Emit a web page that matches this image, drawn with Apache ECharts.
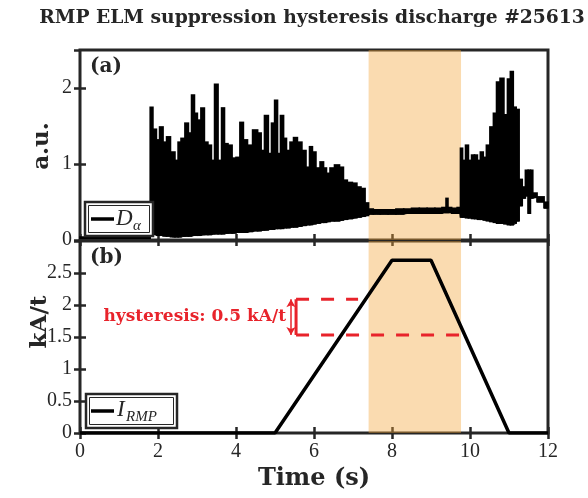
<!DOCTYPE html>
<html>
<head>
<meta charset="utf-8">
<script src="https://cdn.jsdelivr.net/npm/echarts@6/dist/echarts.min.js"></script>
<style>
    html, body { margin: 0; padding: 0; background: #fff; }
    #main { width: 588px; height: 498px; }
</style>
</head>
<body>
<div id="main"></div>
<script>
// D_alpha signal: time (s), lower and upper envelope (a.u.)
var dalphaT = [0, 1.78,
    1.82, 1.92, 2.00, 2.08, 2.18, 2.26, 2.38, 2.49, 2.54, 2.64, 2.74, 2.82, 2.90, 2.97, 3.05, 3.15,
    3.23, 3.33, 3.41, 3.49, 3.59, 3.67, 3.74, 3.85, 3.95, 4.05, 4.15, 4.23, 4.36, 4.49, 4.62, 4.67,
    4.79, 4.87, 4.95, 5.03, 5.10, 5.18, 5.26, 5.33, 5.44, 5.51, 5.64, 5.74, 5.85, 5.92, 6.00, 6.10,
    6.21, 6.28, 6.36, 6.46, 6.59, 6.72, 6.79, 6.92, 7.05, 7.15, 7.26, 7.36,
    7.44, 7.60, 7.80, 8.00, 8.20, 8.40, 8.60, 8.80, 9.00, 9.20, 9.36, 9.41, 9.46, 9.60, 9.74,
    9.77, 9.85, 9.92, 10.00, 10.08, 10.15, 10.23, 10.30, 10.38, 10.46, 10.56, 10.64, 10.72, 10.82,
    10.92, 11.00, 11.07, 11.15, 11.22, 11.30, 11.38, 11.46, 11.52, 11.58, 11.64, 11.80, 12.00];
var dalphaLo = [0.02, 0.02,
    0.08, 0.07, 0.06, 0.06, 0.05, 0.05, 0.04, 0.04, 0.04, 0.05, 0.05, 0.05, 0.06, 0.06, 0.06, 0.07,
    0.07, 0.07, 0.08, 0.08, 0.08, 0.08, 0.09, 0.09, 0.09, 0.10, 0.10, 0.10, 0.11, 0.12, 0.12, 0.13,
    0.13, 0.14, 0.14, 0.15, 0.15, 0.15, 0.16, 0.16, 0.17, 0.17, 0.18, 0.19, 0.20, 0.20, 0.21, 0.22,
    0.23, 0.23, 0.24, 0.25, 0.25, 0.26, 0.27, 0.28, 0.29, 0.30, 0.31, 0.32,
    0.34, 0.34, 0.34, 0.34, 0.34, 0.35, 0.35, 0.35, 0.35, 0.35, 0.36, 0.36, 0.36, 0.35, 0.35,
    0.30, 0.30, 0.29, 0.29, 0.28, 0.28, 0.27, 0.27, 0.26, 0.25, 0.24, 0.23, 0.22, 0.22,
    0.21, 0.20, 0.20, 0.22, 0.25, 0.45, 0.55, 0.58, 0.35, 0.55, 0.56, 0.50, 0.42];
var dalphaHi = [0.04, 0.04,
    1.75, 1.46, 1.32, 1.49, 1.29, 1.36, 1.16, 1.05, 1.29, 1.34, 1.54, 1.41, 1.91, 1.67, 1.58, 1.74,
    1.29, 1.25, 1.05, 2.05, 1.05, 1.74, 1.27, 1.25, 1.08, 1.09, 1.55, 1.32, 1.25, 1.45, 1.41, 1.18,
    1.64, 1.14, 1.54, 1.84, 1.14, 1.64, 1.34, 1.18, 1.29, 1.35, 1.29, 1.18, 0.96, 1.23, 1.16, 0.95,
    1.03, 0.95, 0.88, 0.95, 0.99, 0.96, 0.79, 0.76, 0.75, 0.70, 0.68, 0.49,
    0.41, 0.40, 0.40, 0.40, 0.41, 0.41, 0.42, 0.42, 0.42, 0.42, 0.43, 0.55, 0.43, 0.42, 0.43,
    1.21, 1.05, 1.25, 1.05, 1.12, 1.12, 1.05, 1.16, 1.09, 1.25, 1.49, 1.67, 2.08, 2.13,
    1.65, 2.12, 2.22, 1.75, 1.72, 0.80, 0.70, 0.92, 0.92, 0.92, 0.62, 0.57, 0.50];

// RMP coil current (kA/t)
var rmpT = [0, 5, 8, 9, 11, 12];
var rmpI = [0, 0, 2.7, 2.7, 0, 0];

// ELM suppressed window (s)
var shadeT = [7.4, 9.77];

// hysteresis marks
var hystUpT = [5.54, 7.13];
var hystLoT = [5.54, 9.77];
var hystLevels = [2.09, 1.53];
var hystArrowT = 5.41;

// axes: min, max, interval
var timeRange = [0, 12, 2];
var dalphaRange = [0, 2.5, 1];
var rmpRange = [0, 3, 0.5];

init();

function init() {
    var myChart = echarts.init(document.getElementById("main"));
    var frame = '#262626';
    var red = '#e8232b';
    var shade = 'rgba(243,165,58,0.4)';
    var serif = '"Liberation Serif", serif';
    var boldSerif = '"DejaVu Serif", serif';

    var tick = {inside: true, length: 6, lineStyle: {color: frame, width: 2.5}};
    var noLabel = {show: false};

    function xAxis(grid, pos, labels) {
        return {
            type: 'value', gridIndex: grid, position: pos,
            min: timeRange[0], max: timeRange[1], interval: timeRange[2],
            axisLine: {show: false}, axisTick: tick, splitLine: {show: false},
            axisLabel: labels ? {color: frame, fontFamily: serif, fontSize: 20, margin: 9} : noLabel
        };
    }

    function yAxis(grid, pos, range, labels) {
        return {
            type: 'value', gridIndex: grid, position: pos,
            min: range[0], max: range[1], interval: range[2],
            axisLine: {show: false}, axisTick: tick, splitLine: {show: false},
            axisLabel: labels ? {color: frame, fontFamily: serif, fontSize: 20, margin: 8, showMaxLabel: false} : noLabel
        };
    }

    // each sample is a black column between its lower and upper value,
    // reaching halfway to the neighbouring samples
    var n = dalphaT.length;
    var columnData = [], loData = [];
    for (var i = 0; i < n; i++) {
        var tl = i > 0 ? (dalphaT[i - 1] + dalphaT[i]) / 2 : dalphaT[i];
        var tr = i < n - 1 ? (dalphaT[i] + dalphaT[i + 1]) / 2 : dalphaT[i];
        columnData.push([dalphaT[i], dalphaLo[i], dalphaHi[i], tl, tr]);
        loData.push([dalphaT[i], dalphaLo[i]]);
    }
    var rmpData = rmpT.map(function (t, k) { return [t, rmpI[k]]; });

    function renderColumn(params, api) {
        var p1 = api.coord([api.value(3), api.value(2)]);
        var p2 = api.coord([api.value(4), api.value(1)]);
        // overlap neighbours a little so no seams show
        return {
            type: 'rect',
            shape: {x: p1[0] - 0.8, y: p1[1] - 0.6, width: p2[0] - p1[0] + 1.6, height: p2[1] - p1[1] + 1.2},
            style: {fill: '#000'}
        };
    }

    var shadeArea = {
        silent: true,
        itemStyle: {color: shade},
        data: [[{xAxis: shadeT[0]}, {xAxis: shadeT[1]}]]
    };

    var option = {
        animation: false,
        grid: [
            {left: 80, top: 50, width: 468, height: 190, show: true, borderColor: frame, borderWidth: 3},
            {left: 80, top: 241, width: 468, height: 192, show: true, borderColor: frame, borderWidth: 3}
        ],
        xAxis: [xAxis(0, 'bottom', false), xAxis(0, 'top', false), xAxis(1, 'bottom', true), xAxis(1, 'top', false)],
        yAxis: [yAxis(0, 'left', dalphaRange, true), yAxis(0, 'right', dalphaRange, false),
            yAxis(1, 'left', rmpRange, true), yAxis(1, 'right', rmpRange, false)],
        series: [
            {
                name: 'D_alpha low', type: 'line', xAxisIndex: 0, yAxisIndex: 0,
                step: 'middle', symbol: 'none', data: loData,
                lineStyle: {color: '#000', width: 1},
                markArea: shadeArea
            },
            {
                name: 'D_alpha', type: 'custom', xAxisIndex: 0, yAxisIndex: 0,
                renderItem: renderColumn, data: columnData,
                itemStyle: {color: '#000'},
                encode: {x: [0, 3, 4], y: [1, 2]}
            },
            {
                name: 'I_RMP', type: 'line', xAxisIndex: 2, yAxisIndex: 2,
                symbol: 'none', data: rmpData,
                lineStyle: {color: '#000', width: 3.5},
                markArea: shadeArea
            },
            {
                name: 'hyst upper', type: 'line', xAxisIndex: 2, yAxisIndex: 2, symbol: 'none',
                data: [[hystUpT[0], hystLevels[0]], [hystUpT[1], hystLevels[0]]],
                lineStyle: {color: red, width: 3, type: [13, 12]}, z: 3
            },
            {
                name: 'hyst lower', type: 'line', xAxisIndex: 2, yAxisIndex: 2, symbol: 'none',
                data: [[hystLoT[0], hystLevels[1]], [hystLoT[1], hystLevels[1]]],
                lineStyle: {color: red, width: 3, type: [13, 12]}, z: 3
            },
            {
                name: 'hyst bracket', type: 'line', xAxisIndex: 2, yAxisIndex: 2, symbol: 'none',
                data: [[hystUpT[0], hystLevels[0]], [hystLoT[0], hystLevels[1]]],
                lineStyle: {color: red, width: 3}, z: 3,
                markLine: {
                    silent: true, symbol: ['arrow', 'arrow'], symbolSize: [7, 8],
                    lineStyle: {color: red, width: 1.5, type: 'solid'}, label: {show: false},
                    data: [[{coord: [hystArrowT, hystLevels[0]]}, {coord: [hystArrowT, hystLevels[1]]}]]
                }
            }
        ],
        graphic: [
            {type: 'text', x: 312, y: 18, style: {text: 'RMP ELM suppression hysteresis discharge #25613',
                font: 'bold 18.7px ' + boldSerif, fill: frame, align: 'center', verticalAlign: 'middle'}},
            {type: 'text', x: 42, y: 146, rotation: Math.PI / 2, style: {text: 'a.u.',
                font: 'bold 23px ' + boldSerif, fill: frame, align: 'center', verticalAlign: 'middle'}},
            {type: 'text', x: 40, y: 322, rotation: Math.PI / 2, style: {text: 'kA/t',
                font: 'bold 23px ' + boldSerif, fill: frame, align: 'center', verticalAlign: 'middle'}},
            {type: 'text', x: 314, y: 479, style: {text: 'Time (s)',
                font: 'bold 24px ' + boldSerif, fill: frame, align: 'center', verticalAlign: 'middle'}},
            {type: 'text', x: 90, y: 67, style: {text: '(a)',
                font: 'bold 20px ' + boldSerif, fill: frame, verticalAlign: 'middle'}},
            {type: 'text', x: 90, y: 258, style: {text: '(b)',
                font: 'bold 20px ' + boldSerif, fill: frame, verticalAlign: 'middle'}},
            {type: 'text', x: 286, y: 317, z: 10, style: {text: 'hysteresis: 0.5 kA/t',
                font: 'bold 17px ' + boldSerif, fill: red, align: 'right', verticalAlign: 'middle'}},
            // legend (a)
            {type: 'rect', z: 10, shape: {x: 85, y: 202, width: 68, height: 34},
                style: {fill: '#fff', stroke: frame, lineWidth: 2.5}},
            {type: 'rect', z: 10, shape: {x: 88.5, y: 205.5, width: 61, height: 27},
                style: {fill: 'none', stroke: frame, lineWidth: 1}},
            {type: 'line', z: 11, shape: {x1: 91, y1: 219, x2: 114, y2: 219},
                style: {stroke: '#000', lineWidth: 3.5}},
            {type: 'text', z: 11, x: 116, y: 219, style: {text: 'D',
                font: 'italic 23px ' + serif, fill: frame, verticalAlign: 'middle'}},
            {type: 'text', z: 11, x: 133, y: 226, style: {text: 'α',
                font: 'italic 15px ' + serif, fill: frame, verticalAlign: 'middle'}},
            // legend (b)
            {type: 'rect', z: 10, shape: {x: 86, y: 394, width: 91, height: 34},
                style: {fill: '#fff', stroke: frame, lineWidth: 2.5}},
            {type: 'rect', z: 10, shape: {x: 89.5, y: 397.5, width: 84, height: 27},
                style: {fill: 'none', stroke: frame, lineWidth: 1}},
            {type: 'line', z: 11, shape: {x1: 91, y1: 411, x2: 114, y2: 411},
                style: {stroke: '#000', lineWidth: 3.5}},
            {type: 'text', z: 11, x: 117, y: 410, style: {text: 'I',
                font: 'italic 23px ' + serif, fill: frame, verticalAlign: 'middle'}},
            {type: 'text', z: 11, x: 126, y: 417, style: {text: 'RMP',
                font: 'italic 15px ' + serif, fill: frame, verticalAlign: 'middle'}}
        ]
    };
    myChart.setOption(option);
}
</script>
</body>
</html>
